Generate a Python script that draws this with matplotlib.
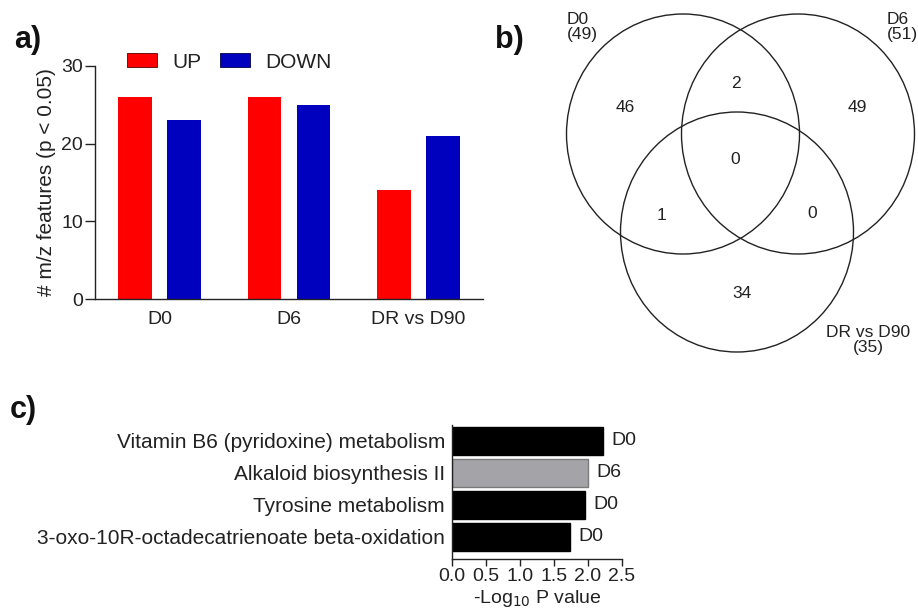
import numpy as np
import matplotlib
matplotlib.use("Agg")
import matplotlib.pyplot as plt
from matplotlib.patches import Ellipse, Patch

plt.rcParams['font.family'] = ['Liberation Sans', 'DejaVu Sans']

# --- data ---
groups = ['D0', 'D6', 'DR vs D90']
up_counts = [26, 26, 14]
down_counts = [23, 25, 21]

venn_sets = ['D0', 'D6', 'DR vs D90']
venn_totals = [49, 51, 35]
# regions: D0 only, D0&D6, D6 only, all three, D0&DR, D6&DR, DR only
venn_regions = ['100', '110', '010', '111', '101', '011', '001']
venn_counts = [46, 2, 49, 0, 1, 0, 34]

pathways = ['Vitamin B6 (pyridoxine) metabolism',
            'Alkaloid biosynthesis II',
            'Tyrosine metabolism',
            '3-oxo-10R-octadecatrienoate beta-oxidation']
neg_log_p = [2.22, 2.0, 1.96, 1.73]
pathway_group = ['D0', 'D6', 'D0', 'D0']

W, H = 918, 610
RED = '#ff0000'
BLUE = '#0000bf'
group_colors = {'D0': 'black', 'D6': '#a4a4a8'}
group_edges = {'D0': 'black', 'D6': '#7a7a7a'}

fig = plt.figure(figsize=(W / 100, H / 100), dpi=100)


def px_axes(left, top, right, bottom, **kw):
    return fig.add_axes([left / W, 1 - bottom / H, (right - left) / W, (bottom - top) / H], **kw)


# --- b) venn (pixel-space canvas) ---
ax_b = px_axes(0, 0, W, H)
ax_b.set_xlim(0, W)
ax_b.set_ylim(H, 0)
ax_b.axis('off')
ax_b.patch.set_alpha(0)

circle_xy = {'D0': (683, 134), 'D6': (798, 134), 'DR vs D90': (737, 232)}
for name in venn_sets:
    cx, cy = circle_xy[name]
    ax_b.add_patch(Ellipse((cx, cy), 233, 240, fill=False, edgecolor='#222222', lw=1.0))

region_xy = {'100': (625, 108), '110': (736, 83), '010': (857, 107), '111': (735, 160),
             '101': (661, 215), '011': (812, 214), '001': (742, 294)}
for reg, n in zip(venn_regions, venn_counts):
    x, y = region_xy[reg]
    ax_b.text(x, y, str(n), ha='center', va='center', fontsize=12.5, color='#222222')

label_xy = {'D0': (567, 27, 'left'), 'D6': (887, 27, 'left'), 'DR vs D90': (868, 340, 'center')}
for name, tot in zip(venn_sets, venn_totals):
    x, y, ha = label_xy[name]
    ax_b.text(x, y, f'{name}\n({tot})', ha=ha, va='center', fontsize=12.5,
              color='#222222', linespacing=0.95, multialignment=ha)

# --- a) bar chart ---
ax_a = px_axes(95, 66, 483, 299)
x = np.arange(len(groups))
ax_a.bar(x - 0.19, up_counts, 0.26, color=RED)
ax_a.bar(x + 0.19, down_counts, 0.26, color=BLUE)
ax_a.set_xlim(-0.5, 2.5)
ax_a.set_ylim(0, 30)
ax_a.set_yticks([0, 10, 20, 30])
ax_a.set_xticks(x)
ax_a.set_xticklabels(groups)
ax_a.tick_params(axis='y', length=7, width=1, labelsize=14, pad=1.5, colors='#222222')
ax_a.tick_params(axis='x', length=0, labelsize=14, pad=9, colors='#222222')
for s in ['top', 'right']:
    ax_a.spines[s].set_visible(False)
for s in ['left', 'bottom']:
    ax_a.spines[s].set_linewidth(1.0)
    ax_a.spines[s].set_color('#222222')
ax_a.set_ylabel('# m/z features (p < 0.05)', fontsize=15, color='#222222', labelpad=4)

fs_px = 15 * 100 / 72
handles = [Patch(facecolor=RED, edgecolor='#550000', lw=0.6, label='UP'),
           Patch(facecolor=BLUE, edgecolor='#000044', lw=0.6, label='DOWN')]
ax_a.legend(handles=handles, loc='center left', bbox_to_anchor=(127 / W, 1 - 62 / H),
            bbox_transform=fig.transFigure, ncol=2, frameon=False, fontsize=15,
            handlelength=30 / fs_px, handleheight=14 / fs_px, handletextpad=15 / fs_px,
            columnspacing=19 / fs_px, borderpad=0, borderaxespad=0, labelcolor='#222222')

# --- c) pathway bars ---
ax_c = px_axes(452, 425, 622, 559)
y = np.arange(len(pathways))
ax_c.barh(y, neg_log_p, 0.86,
          color=[group_colors[g] for g in pathway_group],
          edgecolor=[group_edges[g] for g in pathway_group], lw=1.0)
for yi, v, g in zip(y, neg_log_p, pathway_group):
    ax_c.annotate(g, (v, yi), xytext=(6, 0), textcoords='offset points',
                  ha='left', va='center', fontsize=14, color='#222222')
ax_c.set_ylim(3.69, -0.5)
ax_c.set_xlim(0, 2.5)
ax_c.set_xticks([0, 0.5, 1.0, 1.5, 2.0, 2.5])
ax_c.set_xticklabels(['0.0', '0.5', '1.0', '1.5', '2.0', '2.5'])
ax_c.set_yticks(y)
ax_c.set_yticklabels(pathways)
ax_c.tick_params(axis='y', length=0, labelsize=15, pad=5, colors='#222222')
ax_c.tick_params(axis='x', length=5, width=1, labelsize=14, pad=1.5, colors='#222222')
for s in ['top', 'right']:
    ax_c.spines[s].set_visible(False)
for s in ['left', 'bottom']:
    ax_c.spines[s].set_linewidth(1.0)
    ax_c.spines[s].set_color('#222222')
ax_c.set_xlabel('-Log$_{10}$ P value', fontsize=14, color='#222222', labelpad=2)

# --- panel letters ---
for letter, (px, py) in zip(['a)', 'b)', 'c)'], [(14, 48), (495, 48), (10, 418)]):
    fig.text(px / W, 1 - py / H, letter, fontsize=22, fontweight='bold',
             ha='left', va='baseline', color='#111111')

fig.savefig('out.png', dpi=100)
